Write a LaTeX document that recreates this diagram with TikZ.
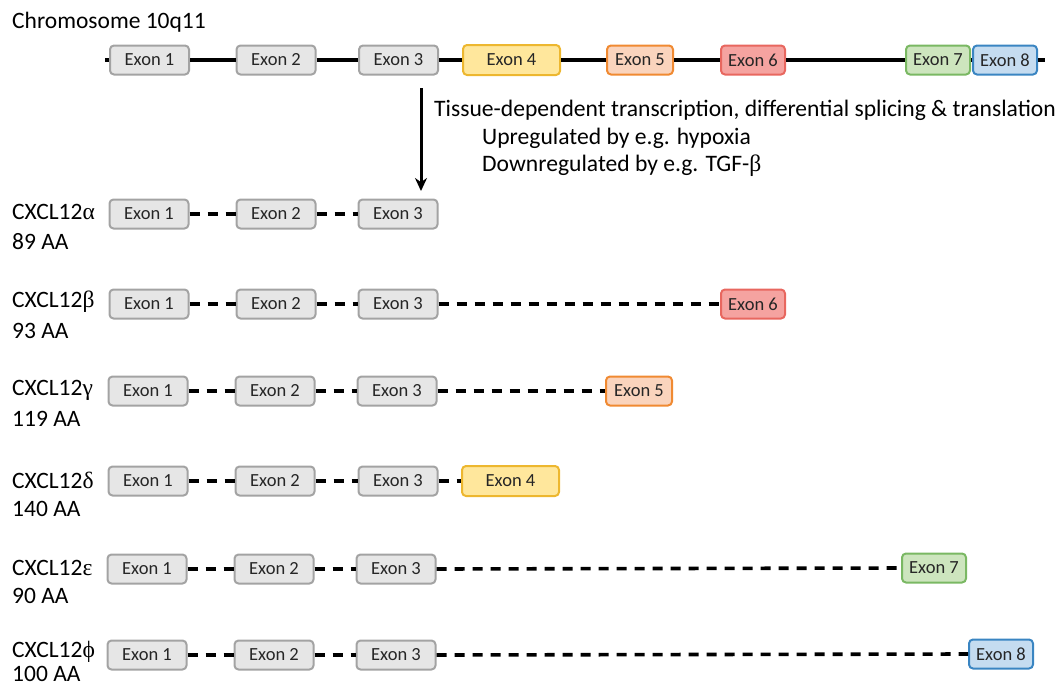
\documentclass[tikz,border=0pt]{standalone}
\usepackage{fontspec}
\setmainfont{Carlito}
\newfontfamily\grk{Liberation Serif}
\usetikzlibrary{arrows.meta}
\definecolor{gfill}{HTML}{E6E6E6}
\definecolor{gdraw}{HTML}{A3A3A3}
\definecolor{yfill}{HTML}{FFE79C}
\definecolor{ydraw}{HTML}{EDB72F}
\definecolor{ofill}{HTML}{FAD4BD}
\definecolor{odraw}{HTML}{F08A32}
\definecolor{rfill}{HTML}{F5A3A0}
\definecolor{rdraw}{HTML}{E8675F}
\definecolor{lgfill}{HTML}{CDE5BE}
\definecolor{lgdraw}{HTML}{7AB863}
\definecolor{bfill}{HTML}{C5DCF0}
\definecolor{bdraw}{HTML}{3A85C2}
\tikzset{
  exon/.style={draw=gdraw, fill=gfill, line width=2pt, rounded corners=4pt,
    minimum width=79pt, minimum height=29pt, inner sep=0pt,
    font=\fontsize{18.5}{22}\selectfont, text=black!85},
  ex4/.style={exon, draw=ydraw, fill=yfill, minimum width=97pt, minimum height=30pt},
  ex5/.style={exon, draw=odraw, fill=ofill, minimum width=66pt},
  ex6/.style={exon, draw=rdraw, fill=rfill, minimum width=64pt},
  ex7/.style={exon, draw=lgdraw, fill=lgfill, minimum width=64pt},
  ex8/.style={exon, draw=bdraw, fill=bfill, minimum width=64pt},
  solidline/.style={line width=3.2pt, black},
  dashline/.style={line width=3.6pt, black, dash pattern=on 10pt off 8pt},
  lbl/.style={anchor=west, inner sep=0pt, font=\fontsize{23.5}{28}\selectfont},
  note/.style={anchor=west, inner sep=0pt, font=\fontsize{23.6}{28}\selectfont}
}
\begin{document}
\begin{tikzpicture}[x=1pt,y=-1pt]
\useasboundingbox (0,0) rectangle (1063,688);
% chromosome
\node[lbl] (chr) at (12,22) {Chromosome 10q11};
\coordinate (cl) at (105,60);
\coordinate (cr) at (1045,60);
\node[exon] (c1) at (149.5,60) {Exon 1};
\node[exon] (c2) at (276,60) {Exon 2};
\node[exon] (c3) at (398.5,60) {Exon 3};
\node[ex4] (c4) at (511.5,60) {Exon 4};
\node[ex5] (c5) at (640,60) {Exon 5};
\node[ex6] (c6) at (753,60) {Exon 6};
\node[ex7] (c7) at (938,60) {Exon 7};
\node[ex8] (c8) at (1005,60) {Exon 8};
\draw[solidline] (cl) -- (c1.west);
\draw[solidline] (c1.east) -- (c2.west);
\draw[solidline] (c2.east) -- (c3.west);
\draw[solidline] (c3.east) -- (c4.west);
\draw[solidline] (c4.east) -- (c5.west);
\draw[solidline] (c5.east) -- (c6.west);
\draw[solidline] (c6.east) -- (c7.west);
\draw[solidline] (c7.east) -- (c8.west);
\draw[solidline] (c8.east) -- (cr);
% arrow and notes
\coordinate (at) at (421,88);
\coordinate (ab) at (421,191);
\draw[line width=3pt, -{Stealth[length=13pt,width=12pt]}] (at) -- (ab);
\node[note] (n1) at (434,110) {Tissue-dependent transcription, differential splicing \& translation};
\node[note] (n2) at (482,138) {Upregulated by e.g. hypoxia};
\node[note] (n3) at (482,166) {Downregulated by e.g. TGF-{\grk β}};
% alpha
\node[lbl] (la) at (12,212) {CXCL12{\grk α}};
\node[lbl] (aa) at (12,242) {89 AA};
\node[exon] (a1) at (149,214) {Exon 1};
\node[exon] (a2) at (276,214) {Exon 2};
\node[exon] (a3) at (398,214) {Exon 3};
\draw[dashline] (a1.east) -- (a2.west);
\draw[dashline] (a2.east) -- (a3.west);
% beta
\node[lbl] (lb) at (12,302) {CXCL12{\grk β}};
\node[lbl] (ba) at (12,331) {93 AA};
\node[exon] (b1) at (149,304) {Exon 1};
\node[exon] (b2) at (276,304) {Exon 2};
\node[exon] (b3) at (398,304) {Exon 3};
\node[ex6] (b6) at (753,304) {Exon 6};
\draw[dashline] (b1.east) -- (b2.west);
\draw[dashline] (b2.east) -- (b3.west);
\draw[dashline] (b3.east) -- (b6.west);
% gamma
\node[lbl] (lg) at (12,390) {CXCL12{\grk γ}};
\node[lbl] (ga) at (12,419) {119 AA};
\node[exon] (g1) at (148,391) {Exon 1};
\node[exon] (g2) at (275,391) {Exon 2};
\node[exon] (g3) at (397,391) {Exon 3};
\node[ex5] (g5) at (639,391) {Exon 5};
\draw[dashline] (g1.east) -- (g2.west);
\draw[dashline] (g2.east) -- (g3.west);
\draw[dashline] (g3.east) -- (g5.west);
% delta
\node[lbl] (ld) at (12,480) {CXCL12{\grk δ}};
\node[lbl] (da) at (12,509) {140 AA};
\node[exon] (d1) at (148,481) {Exon 1};
\node[exon] (d2) at (275,481) {Exon 2};
\node[exon] (d3) at (398,481) {Exon 3};
\node[ex4] (d4) at (510.5,481) {Exon 4};
\draw[dashline] (d1.east) -- (d2.west);
\draw[dashline] (d2.east) -- (d3.west);
\draw[dashline] (d3.east) -- (d4.west);
% epsilon
\node[lbl] (le) at (12,568) {CXCL12{\grk ε}};
\node[lbl] (ea) at (12,596) {90 AA};
\node[exon] (e1) at (147,569) {Exon 1};
\node[exon] (e2) at (274,569) {Exon 2};
\node[exon] (e3) at (396,569) {Exon 3};
\node[ex7] (e7) at (934,568) {Exon 7};
\draw[dashline] (e1.east) -- (e2.west);
\draw[dashline] (e2.east) -- (e3.west);
\draw[dashline] (e3.east) -- (e7.west);
% phi
\node[lbl] (lf) at (12,652) {CXCL12{\grk ϕ}};
\node[lbl] (fa) at (12,674) {100 AA};
\node[exon] (f1) at (147,655) {Exon 1};
\node[exon] (f2) at (274,655) {Exon 2};
\node[exon] (f3) at (396,655) {Exon 3};
\node[ex8] (f8) at (1001,654) {Exon 8};
\draw[dashline] (f1.east) -- (f2.west);
\draw[dashline] (f2.east) -- (f3.west);
\draw[dashline] (f3.east) -- (f8.west);
\end{tikzpicture}
\end{document}
